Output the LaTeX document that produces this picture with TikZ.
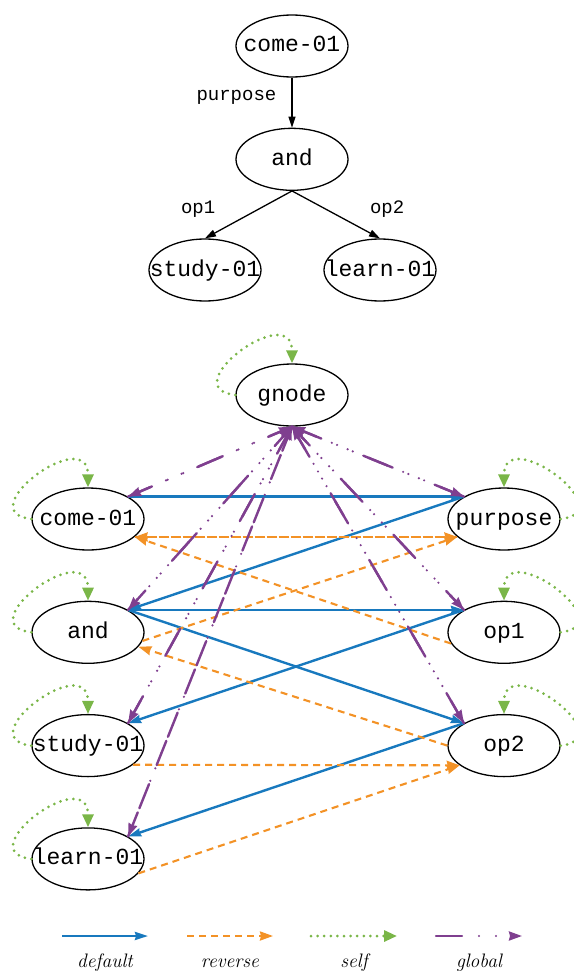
\documentclass[tikz,border=0pt]{standalone}
\usepackage{fontspec}
\setmonofont{Liberation Mono}
\usetikzlibrary{arrows.meta}
\usetikzlibrary{positioning}
\usetikzlibrary{shapes.geometric}

\definecolor{defblue}{RGB}{24,121,190}
\definecolor{revorange}{RGB}{243,146,38}
\definecolor{selfgreen}{RGB}{122,182,72}
\definecolor{globpurple}{RGB}{127,63,143}

% text of a node may run over the ellipse, as in the reference
\newcommand{\amrtext}[1]{\makebox[0pt]{#1}}

\tikzset{
  amr/.style={ellipse, draw, line width=1.3pt,
      minimum width=112pt, minimum height=62pt, inner sep=0pt,
      text height=14pt, text depth=2pt,
      font=\fontsize{23}{23}\selectfont\ttfamily},
  rel/.style={inner sep=0pt, font=\fontsize{19}{19}\selectfont\ttfamily},
  treeedge/.style={-{Triangle[length=11pt,width=7pt]}, line width=1.3pt},
  defaultedge/.style={-{Stealth[length=13pt,width=8pt,inset=1pt]},
      color=defblue, line width=2.4pt},
  reverseedge/.style={-{Stealth[length=13pt,width=9pt,inset=1pt]},
      color=revorange, line width=2.1pt, dash pattern=on 7pt off 5pt},
  selfedge/.style={-{Triangle[length=13pt,width=11pt]},
      color=selfgreen, line width=3pt, line cap=round,
      dash pattern=on 0pt off 6.6pt},
  globaledge/.style={-{Stealth[length=13pt,width=9pt,inset=1pt]},
      color=globpurple, line width=2.4pt, line cap=round,
      dash pattern=on 26pt off 17pt on 0pt off 17pt on 0pt off 17pt},
  selfleft/.style={to path={.. controls +(-63,-7) and +(0,-64) .. (\tikztotarget)}},
  selfright/.style={to path={.. controls +(63,-7) and +(0,-64) .. (\tikztotarget)}},
  legendtext/.style={inner sep=0pt, anchor=north, text=black, text height=13pt,
      text depth=4pt, font=\fontsize{19.5}{20}\selectfont\itshape},
}

\begin{document}
\begin{tikzpicture}[x=1pt,y=-1pt]
  \useasboundingbox (0,0) rectangle (573,971);

  % the AMR graph
  \node[amr] (t_come) at (292,46) {\amrtext{come-01}};
  \node[amr] (t_and) [below=50pt of t_come] {\amrtext{and}};
  \node[amr] (t_study) at (205,270) {\amrtext{study-01}};
  \node[amr] (t_learn) at (380,270) {\amrtext{learn-01}};
  \path[treeedge]
    (t_come) edge node[rel, pos=0.4, left=15pt] {purpose} (t_and)
    (t_and.south) edge node[rel, pos=0.38, left=43pt] {op1} (t_study.north)
    (t_and.south) edge node[rel, pos=0.38, right=44pt] {op2} (t_learn.north);

  % the levi graph with its edge types
  \node[amr] (g_node) at (292,395) {\amrtext{gnode}};
  \node[amr] (g_come) at (88,519) {\amrtext{come-01}};
  \node[amr] (g_purpose) at (504,519) {\amrtext{purpose}};
  \node[amr] (g_and) [below=50pt of g_come] {\amrtext{and}};
  \node[amr] (g_op1) [below=50pt of g_purpose] {\amrtext{op1}};
  \node[amr] (g_study) [below=50pt of g_and] {\amrtext{study-01}};
  \node[amr] (g_op2) [below=50pt of g_op1] {\amrtext{op2}};
  \node[amr] (g_learn) [below=50pt of g_study] {\amrtext{learn-01}};

  \path[defaultedge]
    (g_come.north east) edge (g_purpose.north west)
    (g_purpose.north west) edge (g_and.north east)
    (g_and.north east) edge (g_op1.north west)
    (g_and.north east) edge (g_op2.north west)
    (g_op1.north west) edge (g_study.north east)
    (g_op2.north west) edge (g_learn.north east);

  \path[reverseedge]
    (g_come.-21) edge (g_purpose.201)
    (g_purpose.201) edge (g_come.-21)
    (g_and.-9) edge (g_purpose.201)
    (g_op1.192) edge (g_come.-21)
    (g_op2.west) edge (g_and.-16)
    (g_study.-23) edge (g_op2.204)
    (g_learn.-16) edge (g_op2.204);

  \path[globaledge]
    (g_node.south) edge (g_come.north east)
    (g_come.north east) edge (g_node.south)
    (g_node.south) edge (g_purpose.north west)
    (g_purpose.north west) edge (g_node.south)
    (g_node.south) edge (g_and.north east)
    (g_and.north east) edge (g_node.south)
    (g_node.south) edge (g_op1.north west)
    (g_op1.north west) edge (g_node.south)
    (g_node.south) edge (g_study.north east)
    (g_study.north east) edge (g_node.south)
    (g_node.south) edge (g_op2.north west)
    (g_op2.north west) edge (g_node.south)
    (g_node.south) edge (g_learn.north east)
    (g_learn.north east) edge (g_node.south);

  \path[selfedge]
    (g_node.west) edge[selfleft] (g_node.north)
    (g_come.west) edge[selfleft] (g_come.north)
    (g_and.west) edge[selfleft] (g_and.north)
    (g_study.west) edge[selfleft] (g_study.north)
    (g_learn.west) edge[selfleft] (g_learn.north)
    (g_purpose.east) edge[selfright] (g_purpose.north)
    (g_op1.east) edge[selfright] (g_op1.north)
    (g_op2.east) edge[selfright] (g_op2.north);

  % legend
  \coordinate (l_def_a) at (62,936);
  \coordinate (l_def_b) at (148,936);
  \coordinate (l_rev_a) at (187,936);
  \coordinate (l_rev_b) at (273,936);
  \coordinate (l_self_a) at (311,936);
  \coordinate (l_self_b) at (397,936);
  \coordinate (l_glob_a) at (436,936);
  \coordinate (l_glob_b) at (522,936);
  \draw[defaultedge] (l_def_a) -- (l_def_b)
    node[legendtext, midway, below=17pt] {default};
  \draw[reverseedge] (l_rev_a) -- (l_rev_b)
    node[legendtext, midway, below=17pt] {reverse};
  \draw[selfedge] (l_self_a) -- (l_self_b)
    node[legendtext, midway, below=17pt] {self};
  \draw[globaledge] (l_glob_a) -- (l_glob_b)
    node[legendtext, midway, below=17pt] {global};
\end{tikzpicture}
\end{document}
